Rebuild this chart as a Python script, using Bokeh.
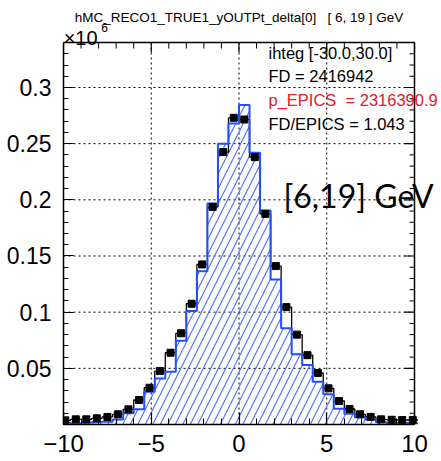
import numpy as np
from bokeh.plotting import figure
from bokeh.models import Range1d, FixedTicker, Label
from bokeh.embed import file_html
from bokeh.resources import INLINE

# ---- data (units of 10^6 entries per bin, bin width 0.6) ----
bin_width = 0.6
bin_centers = [-9.9, -9.3, -8.7, -8.1, -7.5, -6.9, -6.3, -5.7, -5.1, -4.5, -3.9, -3.3,
               -2.7, -2.1, -1.5, -0.9, -0.3, 0.3, 0.9, 1.5, 2.1, 2.7, 3.3, 3.9,
               4.5, 5.1, 5.7, 6.3, 6.9, 7.5, 8.1, 8.7, 9.3, 9.9]
fd_values = [0.0037, 0.0046, 0.0046, 0.0055, 0.0067, 0.0091, 0.0135, 0.0218, 0.0327, 0.0476,
             0.0639, 0.0812, 0.1075, 0.1425, 0.1937, 0.2425, 0.2730, 0.2715, 0.2380, 0.1875,
             0.1410, 0.1045, 0.0800, 0.0617, 0.0458, 0.0322, 0.0209, 0.0138, 0.0091, 0.0068,
             0.0046, 0.0042, 0.0040, 0.0040]
epics_values = [0.0015, 0.0010, 0.0015, 0.0020, 0.0025, 0.0045, 0.0100, 0.0135, 0.0292, 0.0410,
                0.0470, 0.0745, 0.1010, 0.1365, 0.1968, 0.2500, 0.2680, 0.2843, 0.2418, 0.1905,
                0.1290, 0.0856, 0.0625, 0.0530, 0.0380, 0.0270, 0.0140, 0.0095, 0.0065, 0.0045,
                0.0020, 0.0015, 0.0015, 0.0010]

x_lo, x_hi = -10, 10
y_lo, y_hi = 0.0, 0.34
x_major = [-10, -5, 0, 5, 10]
x_labels = {-10: "\u221210", -5: "\u22125", 0: "0", 5: "5", 10: "10"}
y_major = [0.05, 0.1, 0.15, 0.2, 0.25, 0.3]
y_labels = {0.05: "0.05", 0.1: "0.1", 0.15: "0.15", 0.2: "0.2", 0.25: "0.25", 0.3: "0.3"}

NB = "\u00a0"
title_text = "hMC_RECO1_TRUE1_yOUTPt_delta[0]" + NB * 3 + "[ 6, 19 ] GeV"
stats_lines = ["ihteg [-30.0,30.0]", "FD = 2416942", "p_EPICS" + NB * 2 + "= 2316390.9", "FD/EPICS = 1.043"]
range_text = "[6,19] GeV"

# ---- derived geometry ----
centers = np.array(bin_centers)
edges = np.concatenate([centers - bin_width / 2, [centers[-1] + bin_width / 2]])
step_x = np.repeat(edges, 2)[1:-1]
fd_step_y = np.repeat(np.array(fd_values), 2)
ep_step_y = np.repeat(np.array(epics_values), 2)

x_minor = list(range(-10, 11))
y_minor = [round(v, 2) for v in np.arange(0, 0.345, 0.01)]
x_minor_only = [v for v in x_minor if v not in x_major]
y_minor_only = [v for v in y_minor if all(abs(v - m) > 1e-9 for m in y_major) and v > 0]

FONT = "Liberation Sans"
BLUE = "#1f4fff"
HATCH = "#4a6cff"

W, H = 441, 461
LEFT, BOTTOM = 63, 37
px_per_x = 351.0 / (x_hi - x_lo)          # frame box 63..414 px
px_per_y = 381.5 / (y_hi - y_lo)          # frame box 42..423.5 px
x_end = x_hi + (W - 414) / px_per_x        # plotting area extends to canvas edge
y_end = y_hi + 42 / px_per_y

p = figure(width=W, height=H, output_backend="svg", toolbar_location=None,
           x_range=Range1d(x_lo, x_end), y_range=Range1d(y_lo, y_end),
           min_border_left=LEFT, min_border_right=0, min_border_top=0, min_border_bottom=BOTTOM)
p.title.visible = False
p.background_fill_color = "white"
p.border_fill_color = "white"
p.outline_line_color = None
p.grid.visible = False

# dotted grid inside the box
p.segment(x0=[-5, 0, 5], y0=y_lo, x1=[-5, 0, 5], y1=y_hi,
          line_color="black", line_dash="2 3", line_width=1)
p.segment(x0=x_lo, y0=y_major, x1=x_hi, y1=y_major,
          line_color="black", line_dash="2 3", line_width=1)

# bottom axis
xa = p.xaxis[0]
xa.bounds = (x_lo, x_hi)
xa.ticker = FixedTicker(ticks=x_major, minor_ticks=x_minor)
xa.major_label_overrides = x_labels
xa.major_label_text_font = FONT
xa.major_label_text_font_size = "24px"
xa.major_label_text_color = "black"
xa.major_label_standoff = 10
xa.major_tick_in = 12
xa.major_tick_out = 0
xa.minor_tick_in = 6
xa.minor_tick_out = 0
xa.axis_line_width = 1.5
xa.major_tick_line_width = 1.2

# left axis
ya = p.yaxis[0]
ya.bounds = (y_lo, y_hi)
ya.ticker = FixedTicker(ticks=y_major, minor_ticks=y_minor)
ya.major_label_overrides = y_labels
ya.major_label_text_font = FONT
ya.major_label_text_font_size = "23px"
ya.major_label_text_color = "black"
ya.major_label_standoff = 12
ya.major_tick_in = 10
ya.major_tick_out = 0
ya.minor_tick_in = 5
ya.minor_tick_out = 0
ya.axis_line_width = 1.5

# histograms
p.varea(x=step_x, y1=np.zeros_like(ep_step_y), y2=ep_step_y, fill_alpha=0,
        hatch_pattern="/", hatch_color=HATCH, hatch_scale=15, hatch_weight=1.1)
p.line(step_x, fd_step_y, line_color="black", line_width=1.3)
p.line(step_x, ep_step_y, line_color=BLUE, line_width=2)
p.scatter(bin_centers, fd_values, marker="square", size=7, color="black")

# top and right edges of the box with inward ticks
p.line(x=[x_lo, x_hi, x_hi], y=[y_hi, y_hi, y_lo], line_color="black", line_width=1.5)
p.ray(x=x_major, y=y_hi, length=10, length_units="screen", angle=-np.pi / 2,
      line_color="black", line_width=1.2)
p.ray(x=x_minor_only, y=y_hi, length=6, length_units="screen", angle=-np.pi / 2,
      line_color="black", line_width=1)
p.ray(x=x_hi, y=y_major, length=10, length_units="screen", angle=np.pi,
      line_color="black", line_width=1.2)
p.ray(x=x_hi, y=y_minor_only, length=5, length_units="screen", angle=np.pi,
      line_color="black", line_width=1)

# texts
p.add_layout(Label(x=0.0, y=0.3625, text=title_text, text_font=FONT, text_font_size="13.5px",
                   text_align="center", text_baseline="alphabetic", text_color="black"))
p.add_layout(Label(x=-9.99, y=0.3440, text="\u00d710", text_font=FONT, text_font_size="20px",
                   text_align="left", text_baseline="alphabetic", text_color="black"))
p.add_layout(Label(x=-7.85, y=0.3530, text="6", text_font=FONT, text_font_size="12px",
                   text_align="left", text_baseline="alphabetic", text_color="black"))

stat_y = [0.3311, 0.3106, 0.2892, 0.2678]
stat_colors = ["black", "black", "#e0202a", "black"]
for t, yy, c in zip(stats_lines, stat_y, stat_colors):
    p.add_layout(Label(x=1.68, y=yy, text=t, text_font=FONT, text_font_size="16.5px",
                       text_align="left", text_baseline="alphabetic", text_color=c))

p.add_layout(Label(x=2.536, y=0.2040, text=range_text, text_font="Lato", text_font_size="32px",
                   text_align="left", text_baseline="middle", text_color="black"))

open("out.html", "w").write(file_html(p, INLINE))
